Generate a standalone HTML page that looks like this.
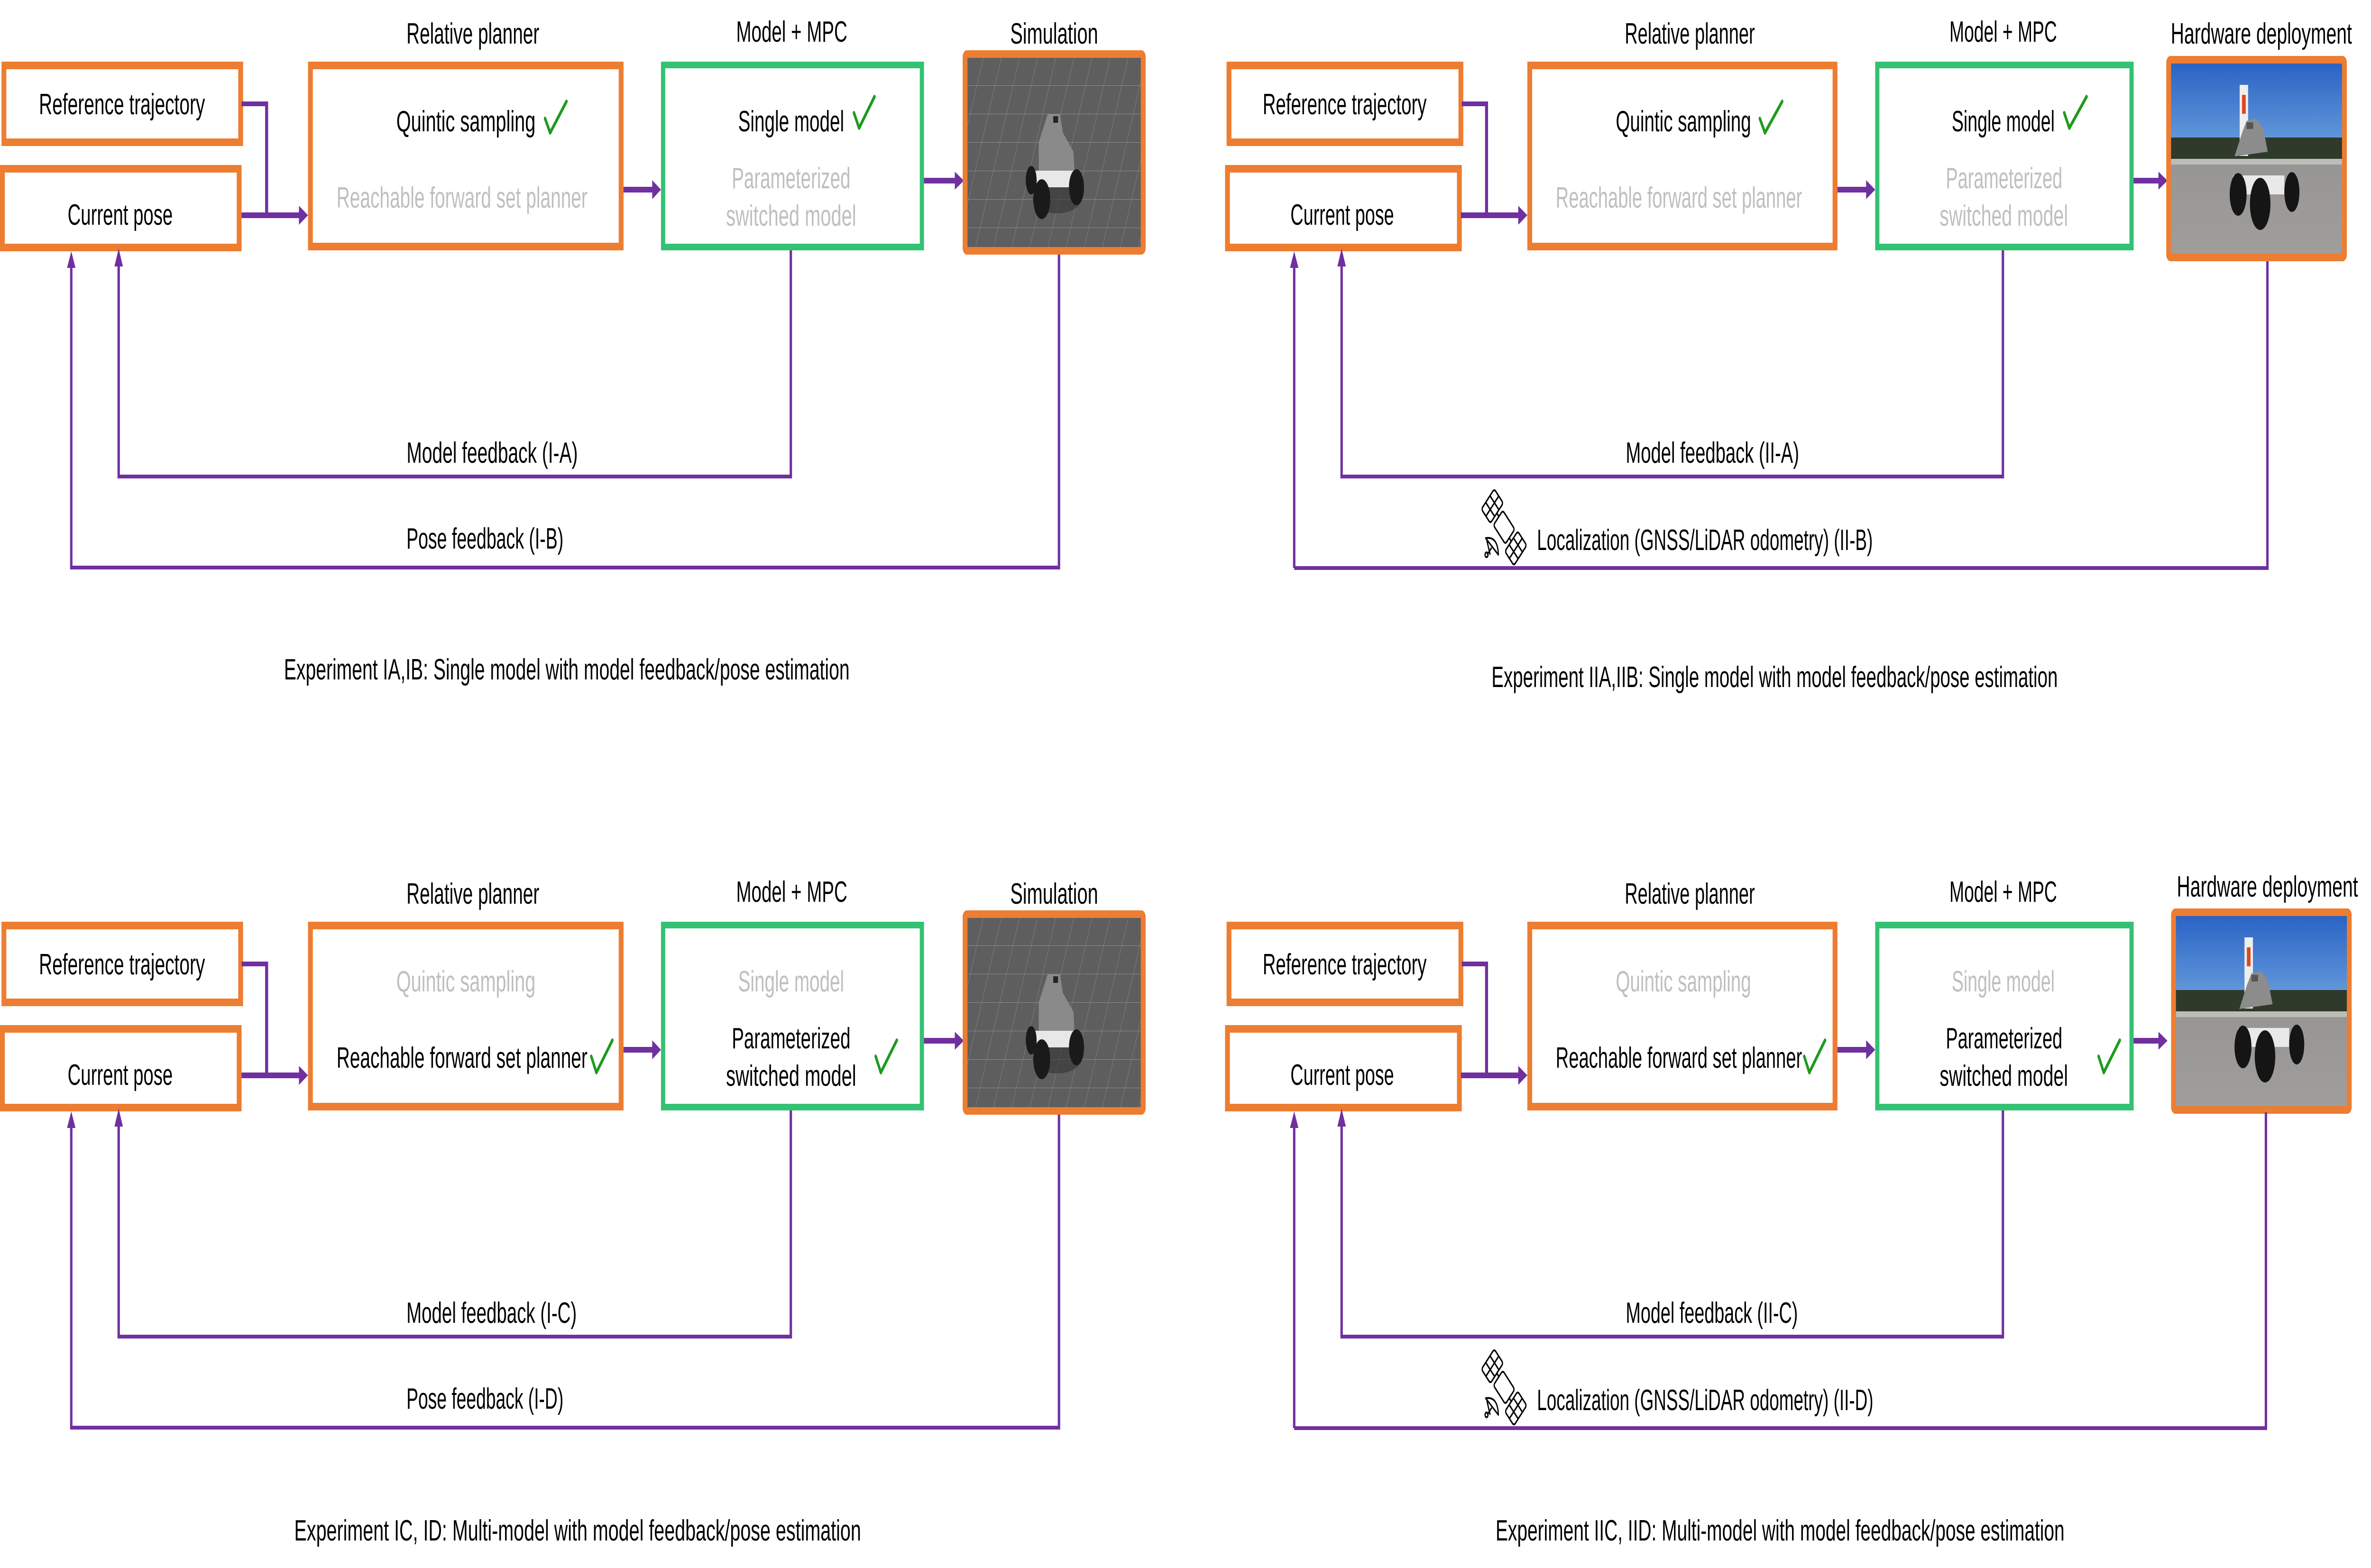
<!DOCTYPE html>
<html><head><meta charset="utf-8"><style>
html,body{margin:0;padding:0;background:#fff;width:100vw;height:100vh;overflow:hidden}
svg{display:block;width:100vw;height:100vh}
text{font-family:"Liberation Sans",sans-serif;font-size:62px;fill:#000}
.g{fill:#BFBFBF}
</style></head><body>
<svg viewBox="0 0 7852 3307" preserveAspectRatio="none" xmlns="http://www.w3.org/2000/svg">
<defs>
<pattern id="grid" width="60" height="60" patternUnits="userSpaceOnUse" patternTransform="skewX(-20)">
<rect width="60" height="60" fill="#5e5e5e"/>
<path d="M0 0H60M0 0V60" stroke="#8e8e8e" stroke-width="2"/>
</pattern>
<linearGradient id="sky" x1="0" y1="0" x2="0" y2="1"><stop offset="0" stop-color="#2a63c4"/><stop offset="1" stop-color="#6fa4e0"/></linearGradient>
<linearGradient id="pave" x1="0" y1="0" x2="0" y2="1"><stop offset="0" stop-color="#8d8d8d"/><stop offset="1" stop-color="#a09e9b"/></linearGradient>
<g id="sim">
<rect x="3196" y="114" width="590" height="415" fill="url(#grid)" stroke="#ED7D31" stroke-width="16" rx="6"/>
<g>
<ellipse cx="3500" cy="420" rx="80" ry="30" fill="#333" opacity="0.6"/>
<polygon points="3440,300 3470,240 3510,240 3520,280 3555,320 3560,380 3440,390" fill="#8a8a8a"/>
<rect x="3420" y="360" width="150" height="35" fill="#e8e8e8"/>
<ellipse cx="3450" cy="420" rx="28" ry="42" fill="#1a1a1a"/>
<ellipse cx="3565" cy="395" rx="25" ry="38" fill="#1a1a1a"/>
<ellipse cx="3415" cy="380" rx="18" ry="30" fill="#1a1a1a"/>
<rect x="3488" y="245" width="16" height="14" fill="#223"/>
</g>
</g>
<g id="hw">
<rect x="7182" y="126" width="582" height="417" fill="url(#pave)" stroke="#ED7D31" stroke-width="16" rx="6"/>
<rect x="7190" y="134" width="566" height="200" fill="url(#sky)"/>
<rect x="7190" y="290" width="566" height="55" fill="#2f3a2a"/>
<rect x="7190" y="335" width="566" height="12" fill="#bdbdb8"/>
<rect x="7417" y="179" width="28" height="150" fill="#eee"/>
<rect x="7425" y="200" width="12" height="40" fill="#e0461f"/>
<polygon points="7425,280 7440,255 7470,250 7495,270 7510,320 7400,330" fill="#8c8c8c"/>
<rect x="7395" y="370" width="170" height="40" fill="#e9e9e9"/>
<ellipse cx="7412" cy="410" rx="28" ry="45" fill="#151515"/>
<ellipse cx="7590" cy="405" rx="25" ry="42" fill="#151515"/>
<ellipse cx="7485" cy="430" rx="34" ry="55" fill="#151515"/>
<rect x="7440" y="258" width="22" height="14" fill="#555"/>
</g>
<g id="sat" fill="none" stroke="#000" stroke-width="4" stroke-linejoin="round">
<g transform="translate(4981,1112) rotate(45)">
<rect x="-70" y="-34" width="42" height="60" rx="6" transform="translate(-10,0)"/>
<path d="M-80 -14H-38M-80 6H-38M-59 -34V26"/>
<rect x="28" y="-26" width="42" height="60" rx="6" transform="translate(10,0)"/>
<path d="M38 -6H80M38 14H80M59 -26V34"/>
<rect x="-28" y="-22" width="56" height="44" rx="6"/>
<path d="M-38 -4H-28M28 4H38"/>
</g>
<path d="M4920 1135 Q4960 1130 4962 1170 Z"/>
<path d="M4924 1140 L4935 1170 M4940 1155 L4925 1170"/>
<circle cx="4923" cy="1170" r="5"/>
</g>
</defs>

<g id="L">
<rect x="13" y="138" width="784" height="162" fill="none" stroke="#ED7D31" stroke-width="16"/>
<rect x="8" y="356" width="784" height="166" fill="none" stroke="#ED7D31" stroke-width="16"/>
<rect x="1028" y="138" width="1029" height="382" fill="none" stroke="#ED7D31" stroke-width="16"/>
<rect x="2196" y="137" width="857" height="384" fill="none" stroke="#33C273" stroke-width="14"/>
<g stroke="#7030A0" fill="none">
<polyline points="800,219 883,219 883,454" stroke-width="10"/>
<line x1="800" y1="454" x2="992" y2="454" stroke-width="12"/>
<line x1="2065" y1="400" x2="2162" y2="400" stroke-width="12"/>
<line x1="3060" y1="381" x2="3165" y2="381" stroke-width="12"/>
<polyline points="2619,528 2619,1005 393,1005 393,560" stroke-width="8"/>
<polyline points="3507,537 3507,1197 236,1197 236,562" stroke-width="8"/>
</g>
<g fill="#7030A0">
<polygon points="990,434 1020,454 990,474"/>
<polygon points="2160,380 2189,400 2160,420"/>
<polygon points="3162,362 3192,381 3162,400"/>
<polygon points="379,562 393,524 407,562"/>
<polygon points="222,565 236,530 250,565"/>
</g>
<text x="1566" y="92" text-anchor="middle" textLength="440" lengthAdjust="spacingAndGlyphs">Relative planner</text>
<text x="2622" y="88" text-anchor="middle" textLength="368" lengthAdjust="spacingAndGlyphs">Model + MPC</text>
<text x="404" y="241" text-anchor="middle" textLength="550" lengthAdjust="spacingAndGlyphs">Reference trajectory</text>
<text x="398" y="474" text-anchor="middle" textLength="348" lengthAdjust="spacingAndGlyphs">Current pose</text>
</g>
<use href="#sim"/>
<use href="#L" transform="translate(0,1814)"/>
<use href="#sim" transform="translate(0,1814)"/>
<text x="3491" y="92" text-anchor="middle" textLength="291" lengthAdjust="spacingAndGlyphs">Simulation</text>
<text x="3491" y="1906" text-anchor="middle" textLength="291" lengthAdjust="spacingAndGlyphs">Simulation</text>

<text x="1543" y="277" text-anchor="middle" textLength="461" lengthAdjust="spacingAndGlyphs">Quintic sampling</text>
<text x="1530" y="438" text-anchor="middle" textLength="831" lengthAdjust="spacingAndGlyphs" class="g">Reachable forward set planner</text>
<text x="2620" y="277" text-anchor="middle" textLength="351" lengthAdjust="spacingAndGlyphs">Single model</text>
<text x="2620" y="397" text-anchor="middle" textLength="393" lengthAdjust="spacingAndGlyphs" class="g">Parameterized</text>
<text x="2620" y="476" text-anchor="middle" textLength="431" lengthAdjust="spacingAndGlyphs" class="g">switched model</text>
<path d="M1805 250 L1822 280 L1876 214" fill="none" stroke="#1E9A1E" stroke-width="8" stroke-linecap="round" stroke-linejoin="round"/>
<path d="M2828 238 L2845 270 L2896 204" fill="none" stroke="#1E9A1E" stroke-width="8" stroke-linecap="round" stroke-linejoin="round"/>
<text x="1630" y="976" text-anchor="middle" textLength="567" lengthAdjust="spacingAndGlyphs">Model feedback (I-A)</text>
<text x="1606" y="1157" text-anchor="middle" textLength="520" lengthAdjust="spacingAndGlyphs">Pose feedback (I-B)</text>
<text x="1877" y="1433" text-anchor="middle" textLength="1873" lengthAdjust="spacingAndGlyphs">Experiment IA,IB: Single model with model feedback/pose estimation</text>

<text x="1543" y="2091" text-anchor="middle" textLength="461" lengthAdjust="spacingAndGlyphs" class="g">Quintic sampling</text>
<text x="1530" y="2252" text-anchor="middle" textLength="831" lengthAdjust="spacingAndGlyphs">Reachable forward set planner</text>
<text x="2620" y="2091" text-anchor="middle" textLength="351" lengthAdjust="spacingAndGlyphs" class="g">Single model</text>
<text x="2620" y="2211" text-anchor="middle" textLength="393" lengthAdjust="spacingAndGlyphs">Parameterized</text>
<text x="2620" y="2290" text-anchor="middle" textLength="431" lengthAdjust="spacingAndGlyphs">switched model</text>
<path d="M1958 2228 L1975 2262 L2028 2194" fill="none" stroke="#1E9A1E" stroke-width="8" stroke-linecap="round" stroke-linejoin="round"/>
<path d="M2900 2228 L2917 2262 L2970 2194" fill="none" stroke="#1E9A1E" stroke-width="8" stroke-linecap="round" stroke-linejoin="round"/>
<text x="1628" y="2790" text-anchor="middle" textLength="564" lengthAdjust="spacingAndGlyphs">Model feedback (I-C)</text>
<text x="1606" y="2971" text-anchor="middle" textLength="520" lengthAdjust="spacingAndGlyphs">Pose feedback (I-D)</text>
<text x="1913" y="3249" text-anchor="middle" textLength="1877" lengthAdjust="spacingAndGlyphs">Experiment IC, ID: Multi-model with model feedback/pose estimation</text>

<g id="R">
<rect x="4070" y="138" width="768" height="162" fill="none" stroke="#ED7D31" stroke-width="16"/>
<rect x="4065" y="356" width="768" height="166" fill="none" stroke="#ED7D31" stroke-width="16"/>
<rect x="5066" y="138" width="1011" height="382" fill="none" stroke="#ED7D31" stroke-width="16"/>
<rect x="6217" y="137" width="842" height="384" fill="none" stroke="#33C273" stroke-width="14"/>
<g stroke="#7030A0" fill="none">
<polyline points="4841,219 4923,219 4923,454" stroke-width="10"/>
<line x1="4838" y1="454" x2="5030" y2="454" stroke-width="12"/>
<line x1="6085" y1="400" x2="6182" y2="400" stroke-width="12"/>
<line x1="7066" y1="381" x2="7150" y2="381" stroke-width="12"/>
<polyline points="6633,528 6633,1005 4443,1005 4443,560" stroke-width="8"/>
<line x1="4286" y1="1198" x2="4286" y2="562" stroke-width="8"/>
</g>
<g fill="#7030A0">
<polygon points="5028,434 5058,454 5028,474"/>
<polygon points="6180,380 6210,400 6180,420"/>
<polygon points="7148,362 7178,381 7148,400"/>
<polygon points="4429,562 4443,524 4457,562"/>
<polygon points="4272,565 4286,530 4300,565"/>
</g>
<text x="5596" y="92" text-anchor="middle" textLength="431" lengthAdjust="spacingAndGlyphs">Relative planner</text>
<text x="6634" y="88" text-anchor="middle" textLength="356" lengthAdjust="spacingAndGlyphs">Model + MPC</text>
<text x="4453" y="241" text-anchor="middle" textLength="543" lengthAdjust="spacingAndGlyphs">Reference trajectory</text>
<text x="4445" y="474" text-anchor="middle" textLength="343" lengthAdjust="spacingAndGlyphs">Current pose</text>
<use href="#sat"/>
</g>
<use href="#R" transform="translate(0,1814)"/>

<use href="#hw"/>
<polyline points="7509,551 7509,1198 4286,1198" fill="none" stroke="#7030A0" stroke-width="8"/>
<text x="7489" y="92" text-anchor="middle" textLength="600" lengthAdjust="spacingAndGlyphs">Hardware deployment</text>
<text x="5575" y="277" text-anchor="middle" textLength="448" lengthAdjust="spacingAndGlyphs">Quintic sampling</text>
<text x="5560" y="438" text-anchor="middle" textLength="816" lengthAdjust="spacingAndGlyphs" class="g">Reachable forward set planner</text>
<text x="6634" y="277" text-anchor="middle" textLength="341" lengthAdjust="spacingAndGlyphs">Single model</text>
<text x="6637" y="397" text-anchor="middle" textLength="386" lengthAdjust="spacingAndGlyphs" class="g">Parameterized</text>
<text x="6636" y="476" text-anchor="middle" textLength="425" lengthAdjust="spacingAndGlyphs" class="g">switched model</text>
<path d="M5828 250 L5845 280 L5902 214" fill="none" stroke="#1E9A1E" stroke-width="8" stroke-linecap="round" stroke-linejoin="round"/>
<path d="M6836 238 L6853 270 L6910 204" fill="none" stroke="#1E9A1E" stroke-width="8" stroke-linecap="round" stroke-linejoin="round"/>
<text x="5671" y="976" text-anchor="middle" textLength="574" lengthAdjust="spacingAndGlyphs">Model feedback (II-A)</text>
<text x="5646" y="1160" text-anchor="middle" textLength="1112" lengthAdjust="spacingAndGlyphs">Localization (GNSS/LiDAR odometry) (II-B)</text>
<text x="5877" y="1449" text-anchor="middle" textLength="1875" lengthAdjust="spacingAndGlyphs">Experiment IIA,IIB: Single model with model feedback/pose estimation</text>

<use href="#hw" transform="translate(16,1798)"/>
<polyline points="7504,2346 7504,3012 4286,3012" fill="none" stroke="#7030A0" stroke-width="8"/>
<text x="7509" y="1891" text-anchor="middle" textLength="600" lengthAdjust="spacingAndGlyphs">Hardware deployment</text>
<text x="5575" y="2091" text-anchor="middle" textLength="448" lengthAdjust="spacingAndGlyphs" class="g">Quintic sampling</text>
<text x="5560" y="2252" text-anchor="middle" textLength="816" lengthAdjust="spacingAndGlyphs">Reachable forward set planner</text>
<text x="6634" y="2091" text-anchor="middle" textLength="341" lengthAdjust="spacingAndGlyphs" class="g">Single model</text>
<text x="6637" y="2211" text-anchor="middle" textLength="386" lengthAdjust="spacingAndGlyphs">Parameterized</text>
<text x="6636" y="2290" text-anchor="middle" textLength="425" lengthAdjust="spacingAndGlyphs">switched model</text>
<path d="M5975 2228 L5992 2262 L6044 2194" fill="none" stroke="#1E9A1E" stroke-width="8" stroke-linecap="round" stroke-linejoin="round"/>
<path d="M6950 2228 L6967 2262 L7020 2194" fill="none" stroke="#1E9A1E" stroke-width="8" stroke-linecap="round" stroke-linejoin="round"/>
<text x="5669" y="2790" text-anchor="middle" textLength="570" lengthAdjust="spacingAndGlyphs">Model feedback (II-C)</text>
<text x="5647" y="2974" text-anchor="middle" textLength="1114" lengthAdjust="spacingAndGlyphs">Localization (GNSS/LiDAR odometry) (II-D)</text>
<text x="5895" y="3249" text-anchor="middle" textLength="1884" lengthAdjust="spacingAndGlyphs">Experiment IIC, IID: Multi-model with model feedback/pose estimation</text>
</svg>
</body></html>
